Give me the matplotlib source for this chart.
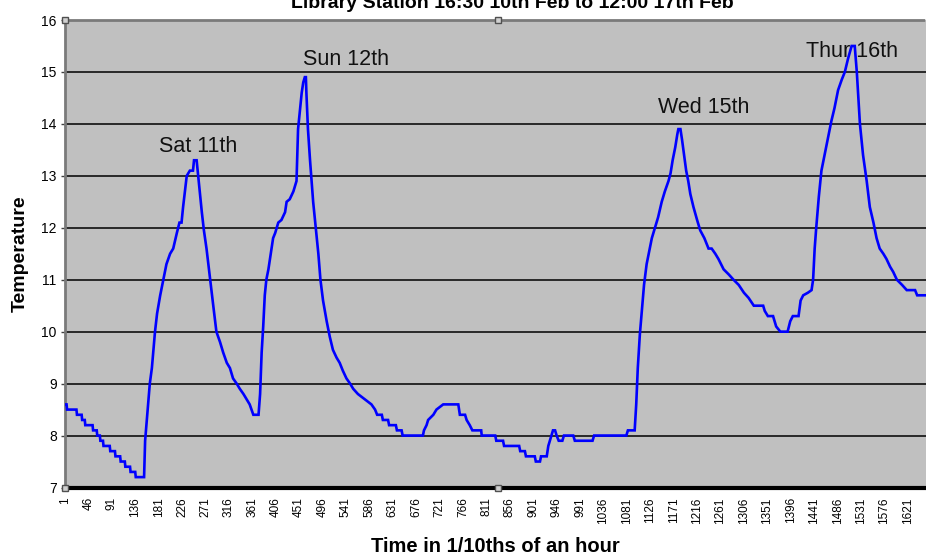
import matplotlib
matplotlib.use("Agg")
import matplotlib.pyplot as plt

plt.rcParams['font.family'] = ['Liberation Sans', 'DejaVu Sans']

# ---- data (time index in 1/10 h, temperature) ----
time = [1, 4, 5, 23, 24, 33, 34, 39, 40, 54, 55, 62, 63, 68, 69, 74, 75, 87, 88, 97,
        98, 107, 108, 116, 117, 126, 127, 136, 137, 153,
        155, 159, 164, 168, 174, 178, 184, 190, 196, 203, 209, 216, 221, 225, 228, 235,
        241, 247, 249, 254, 257, 264, 268, 273, 280, 286, 292, 299, 305, 312, 318, 324,
        331, 337, 344, 350, 356, 363, 373,
        376, 379, 382, 385, 388, 392, 398, 401, 405, 411, 417, 424, 427, 433, 440, 446,
        449, 453, 456, 459, 462, 464, 465, 468, 472, 478, 483, 488, 492, 497, 504, 510,
        516, 523, 529, 535, 542, 549, 555, 564, 577, 590, 597, 601, 610, 612, 622, 624,
        637, 639, 648, 650, 689,
        691, 696, 699, 709, 715, 728, 757, 760, 770, 773, 779, 784, 801, 802, 828, 830,
        843, 845, 874, 876, 885, 887, 904, 906, 914, 916, 927, 930, 936, 939, 943, 946,
        950, 957, 960, 978, 981, 1015, 1018, 1080, 1083, 1096,
        1099, 1102, 1106, 1109, 1114, 1119, 1123, 1129, 1135, 1141, 1148, 1154, 1161,
        1165, 1169, 1174, 1178, 1180, 1184, 1187, 1191, 1195, 1199, 1203, 1209, 1216,
        1222, 1230, 1238, 1244, 1251, 1257, 1267, 1277, 1286, 1296, 1306, 1315, 1325,
        1337, 1343, 1346, 1352, 1362, 1365, 1368, 1376, 1390, 1395, 1400, 1411,
        1415, 1420, 1429, 1436, 1439, 1442, 1445, 1450, 1455, 1461, 1468, 1474, 1480,
        1487, 1494, 1500, 1506, 1513, 1519, 1523, 1526, 1529, 1535, 1542, 1548, 1555,
        1561, 1567, 1574, 1580, 1587, 1593, 1600, 1610, 1619, 1635, 1639, 1656]

temperature = [8.6, 8.6, 8.5, 8.5, 8.4, 8.4, 8.3, 8.3, 8.2, 8.2, 8.1, 8.1, 8.0, 8.0, 7.9,
               7.9, 7.8, 7.8, 7.7, 7.7, 7.6, 7.6, 7.5, 7.5, 7.4, 7.4, 7.3, 7.3, 7.2, 7.2,
               7.9, 8.4, 9.0, 9.3, 10.0, 10.35, 10.7, 11.0, 11.3, 11.5, 11.6, 11.9, 12.1,
               12.1, 12.4, 13.0, 13.1, 13.1, 13.3, 13.3, 13.0, 12.3, 11.95, 11.6, 11.0,
               10.5, 10.0, 9.8, 9.6, 9.4, 9.3, 9.1, 9.0, 8.9, 8.8, 8.7, 8.6, 8.4, 8.4,
               8.8, 9.6, 10.1, 10.7, 11.0, 11.2, 11.6, 11.8, 11.9, 12.1, 12.15, 12.3, 12.5,
               12.55, 12.7, 12.9, 13.9, 14.3, 14.6, 14.8, 14.9, 14.9, 14.6, 13.9, 13.3,
               12.5, 12.0, 11.5, 11.0, 10.6, 10.2, 9.9, 9.65, 9.5, 9.4, 9.25, 9.1, 9.0,
               8.9, 8.8, 8.7, 8.6, 8.5, 8.4, 8.4, 8.3, 8.3, 8.2, 8.2, 8.1, 8.1, 8.0, 8.0,
               8.1, 8.2, 8.3, 8.4, 8.5, 8.6, 8.6, 8.4, 8.4, 8.3, 8.2, 8.1, 8.1, 8.0, 8.0,
               7.9, 7.9, 7.8, 7.8, 7.7, 7.7, 7.6, 7.6, 7.5, 7.5, 7.6, 7.6, 7.8, 8.0, 8.1,
               8.1, 8.0, 7.9, 7.9, 8.0, 8.0, 7.9, 7.9, 8.0, 8.0, 8.1, 8.1,
               8.6, 9.3, 9.95, 10.3, 10.9, 11.3, 11.5, 11.8, 12.0, 12.2, 12.5, 12.7, 12.9,
               13.05, 13.3, 13.55, 13.8, 13.9, 13.9, 13.7, 13.4, 13.1, 12.9, 12.65, 12.4,
               12.15, 11.95, 11.8, 11.6, 11.6, 11.5, 11.4, 11.2, 11.1, 11.0, 10.9, 10.75,
               10.65, 10.5, 10.5, 10.5, 10.4, 10.3, 10.3, 10.2, 10.1, 10.0, 10.0, 10.2,
               10.3, 10.3,
               10.6, 10.7, 10.75, 10.8, 11.0, 11.6, 12.0, 12.6, 13.1, 13.4, 13.75, 14.05,
               14.3, 14.65, 14.85, 15.0, 15.25, 15.5, 15.5, 15.0, 14.5, 14.0, 13.4, 12.9,
               12.4, 12.1, 11.8, 11.6, 11.5, 11.4, 11.25, 11.15, 11.0, 10.9, 10.8, 10.8,
               10.7, 10.7]

x_ticks = list(range(1, 1622, 45))
y_ticks = [7, 8, 9, 10, 11, 12, 13, 14, 15, 16]

day_labels = ["Sat 11th", "Sun 12th", "Wed 15th", "Thur 16th"]
day_label_x = [257, 541, 1229, 1513]
day_label_y = [13.46, 15.13, 14.21, 15.29]

title = "Library Station 16:30 10th Feb to 12:00 17th Feb"

# ---- figure ----
W, H = 926, 558
fig = plt.figure(figsize=(W / 100, H / 100), dpi=100)
left, right, top, bottom = 65, 926, 20, 487.5
ax = fig.add_axes([left / W, 1 - bottom / H, (right - left) / W, (bottom - top) / H])
ax.set_facecolor('#C0C0C0')

ax.plot(time, temperature, color='#0000FF', lw=1.9, solid_joinstyle='miter', zorder=3)

ax.set_xlim(1, 1656)
ax.set_ylim(7, 16)
ax.set_yticks(y_ticks)
ax.set_yticklabels([str(v) for v in y_ticks], fontsize=10)
ax.set_xticks(x_ticks)
ax.set_xticklabels([str(v) for v in x_ticks], rotation=90, fontsize=8.5, va='top')
ax.tick_params(axis='x', length=0, pad=7)
ax.tick_params(axis='y', length=3, width=1, pad=3, color='#404040')

for yv in y_ticks[1:-1]:
    ax.axhline(yv, color='black', lw=1.1, zorder=1)

ax.spines['right'].set_visible(False)
ax.spines['bottom'].set_color('black')
ax.spines['bottom'].set_linewidth(3)
for s in ['left', 'top']:
    ax.spines[s].set_color('#7a7a7a')
    ax.spines[s].set_linewidth(2)
    ax.spines[s].set_linestyle((0, (1, 1)))

# selection handles
for (hx, hy) in [(0, 0), (0, 1), (0.503, 1), (0.503, 0)]:
    ax.plot([hx], [hy], marker='s', ms=4, mfc='#d0d0d0', mec='#505050', mew=1,
            transform=ax.transAxes, clip_on=False, zorder=5)

for lab, lx, ly in zip(day_labels, day_label_x, day_label_y):
    ax.text(lx, ly, lab, ha='center', va='baseline', fontsize=15.5, color='#111111', zorder=4)

fig.text(495 / W, 1 - 546 / H, "Time in 1/10ths of an hour", ha='center', va='center',
         fontsize=14.5, fontweight='bold')
fig.text(20 / W, 1 - 254 / H, "Temperature", ha='center', va='center', rotation=90,
         fontsize=14, fontweight='bold')
fig.text(512 / W, 1 - 8 / H, title, ha='center', va='baseline', fontsize=14,
         fontweight='bold')

fig.savefig("out.png", dpi=100)
